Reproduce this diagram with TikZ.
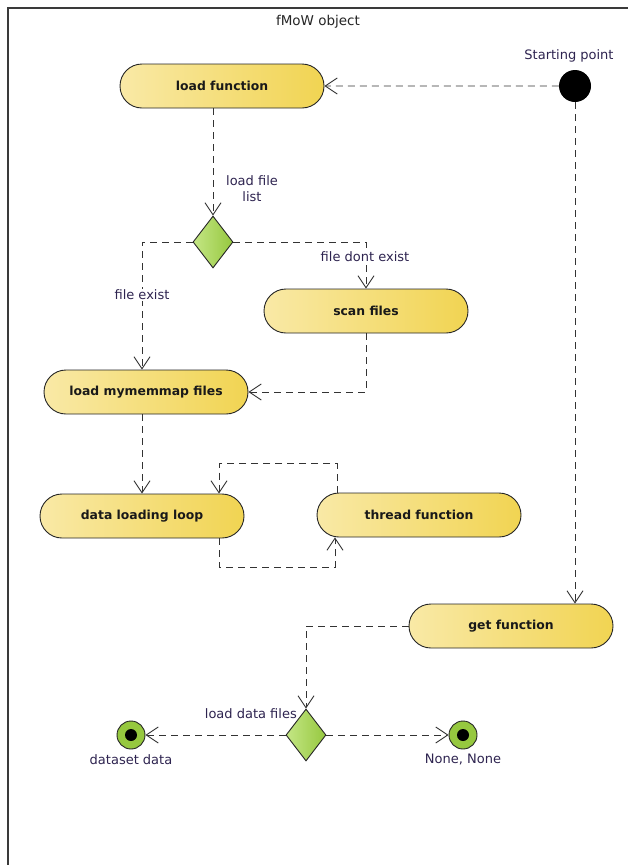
\documentclass[tikz,border=0pt]{standalone}
\usepackage{fontspec}
\setsansfont{DejaVu Sans}
\usetikzlibrary{shapes.misc,shapes.geometric,arrows.meta}
\definecolor{yL}{HTML}{F9E9A6}
\definecolor{yR}{HTML}{F1D452}
\definecolor{gL}{HTML}{C4E685}
\definecolor{gR}{HTML}{96C83F}
\definecolor{lbl}{HTML}{2E2450}
\definecolor{frame}{HTML}{3A3A3A}
\tikzset{
  act/.style={rounded rectangle, draw=black!85, line width=0.9pt,
    left color=yL, right color=yR, minimum width=204pt, minimum height=44pt,
    inner sep=0pt, font=\sffamily\bfseries\fontsize{12.4}{14}\selectfont, text=black!90},
  dec/.style={diamond, draw=black!85, line width=0.9pt, left color=gL, right color=gR,
    minimum width=40pt, minimum height=52pt, inner sep=0pt},
  startnode/.style={circle, fill=black, minimum size=32pt, inner sep=0pt},
  endnode/.style={circle, draw=black!85, line width=0.9pt, fill=gR, minimum size=28pt, inner sep=0pt},
  lab/.style={font=\sffamily\fontsize{13}{16}\selectfont, text=lbl, inner sep=1pt},
  flow/.style={draw=black!80, line width=0.9pt, dash pattern=on 7pt off 5pt,
    -{Straight Barb[length=12pt,width=16pt,line width=0.9pt]}},
}
\begin{document}
\begin{tikzpicture}[x=1pt,y=-1pt]
\useasboundingbox (0,0) rectangle (628,865);
\fill[white] (0,0) rectangle (628,865);
\draw[frame, line width=1.6pt] (628,8) -- (8,8) -- (8,865);
\node[font=\sffamily\fontsize{13.5}{16}\selectfont, text=black!85] (title) at (318,22) {fMoW object};

% nodes
\node[act] (lf) at (222,86) {load function};
\node[startnode] (start) at (575,86) {};
\node[lab, anchor=south] (stlab) at (569,63) {Starting point};
\node[dec] (d1) at (213,242) {};
\node[act] (sf) at (366,311) {scan files};
\node[act] (lm) at (146,392) {load mymemmap files};
\node[act] (dl) at (142,516) {data loading loop};
\node[act] (tf) at (419,515) {thread function};
\node[act] (gf) at (511,626) {get function};
\node[dec] (d2) at (306,735) {};
\node[endnode] (e1) at (131,735) {};
\node[endnode] (e2) at (463,735) {};
\fill (e1) circle (6pt);
\fill (e2) circle (6pt);
\node[lab, anchor=north] (e1lab) at (131,753) {dataset data};
\node[lab, anchor=north] (e2lab) at (463,753) {None, None};

% connectors
\draw[flow] (start) -- (lf);
\draw[flow] (start) -- (gf.north -| start);
\draw[flow] (lf.south -| d1) -- (d1.north);
\node[lab, align=center] (l1) at (252,189) {load file\\list};
\draw[flow] (d1.west) -| ([xshift=-4pt]lm.north);
\node[lab, fill=white] (l2) at (142,295) {file exist};
\draw[flow] (d1.east) -| (sf.north);
\node[lab, fill=white] (l3) at (365,257) {file dont exist};
\draw[flow] (sf.south) |- (lm.east);
\draw[flow] ([xshift=-4pt]lm.south) -- (dl.north);
\draw[flow] ([xshift=-82pt]tf.north) -- ++(0,-29) -| ([xshift=77pt]dl.north);
\draw[flow] ([xshift=77pt]dl.south) -- ++(0,29) -| ([xshift=-84pt]tf.south);
\draw[flow] (gf.west) -| (d2.north);
\node[lab, anchor=south east] (l4) at (298,720) {load data files};
\draw[flow] (d2.west) -- (e1);
\draw[flow] (d2.east) -- (e2);
\end{tikzpicture}
\end{document}
